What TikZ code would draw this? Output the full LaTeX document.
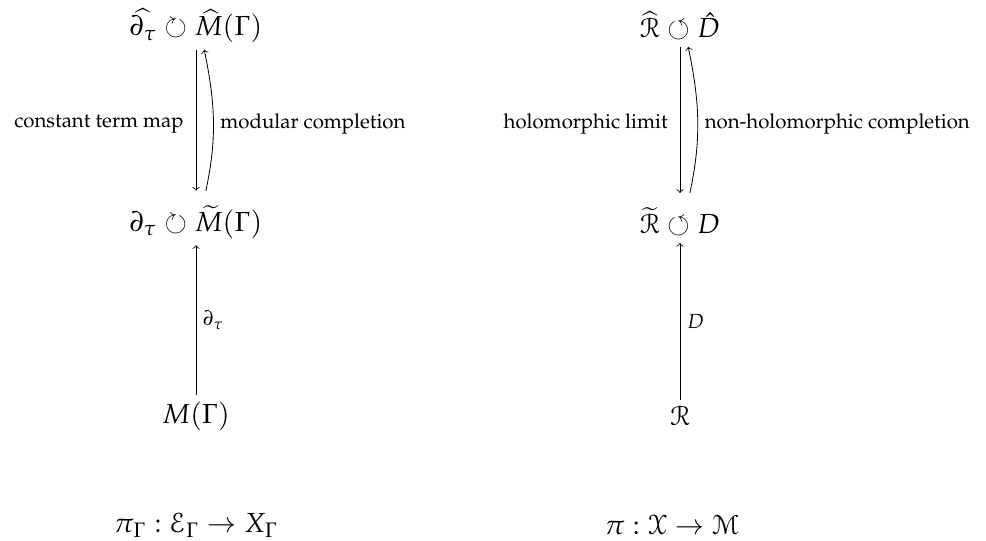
\documentclass[tikz,border=0pt]{standalone}
\usepackage[T1]{fontenc}
\usepackage{mathpazo}
\usepackage{amsmath,amssymb}
\usepackage{eucal}
\usetikzlibrary{positioning}

\begin{document}
\begin{tikzpicture}[
    x=0.49pt, y=-0.49pt,
    obj/.style={inner sep=3pt, font=\fontsize{13.5}{16}\selectfont},
    arrow/.style={->,>=to},
]
\useasboundingbox (0,0) rectangle (986,541);

% Modular forms
\node[obj] (hat_m) at (196,26) {$\widehat{\partial_\tau} \circlearrowright \widehat{M}(\Gamma)$};
\node[obj] (tilde_m) at (196,222) {$\partial_\tau \circlearrowright \widetilde{M}(\Gamma)$};
\node[obj] (m_gamma) at (196,416) {$M(\Gamma)$};

\draw[arrow, shorten >=4pt] (hat_m) -- node[left=2.5pt] {constant term map} (tilde_m);
\draw[arrow, shorten <=4pt] ([xshift=4pt]tilde_m.north) to[bend right=12] node[right] {modular completion} ([xshift=4pt]hat_m.south);
\draw[arrow] (m_gamma) -- node[right] {$\partial_\tau$} (tilde_m);

% Resurgent side
\node[obj] (hat_r) at (680,26) {$\widehat{\mathcal{R}} \circlearrowleft \hat{D}$};
\node[obj] (tilde_r) at (680,222) {$\widetilde{\mathcal{R}} \circlearrowleft D$};
\node[obj] (r_space) at (680,416) {$\mathcal{R}$};

\draw[arrow, shorten >=4pt] (hat_r) -- node[left=2.5pt] {holomorphic limit} (tilde_r);
\draw[arrow, shorten <=4pt] ([xshift=4pt]tilde_r.north) to[bend right=12] node[right] {non-holomorphic completion} ([xshift=4pt]hat_r.south);
\draw[arrow] (r_space) -- node[right] {$D$} (tilde_r);

% Fibrations
\node[obj] (pi_gamma) at (196,525) {$\pi_\Gamma : \mathcal{E}_\Gamma \to X_\Gamma$};
\node[obj] (pi_x) at (672,525) {$\pi : \mathcal{X} \to \mathcal{M}$};

\end{tikzpicture}
\end{document}
